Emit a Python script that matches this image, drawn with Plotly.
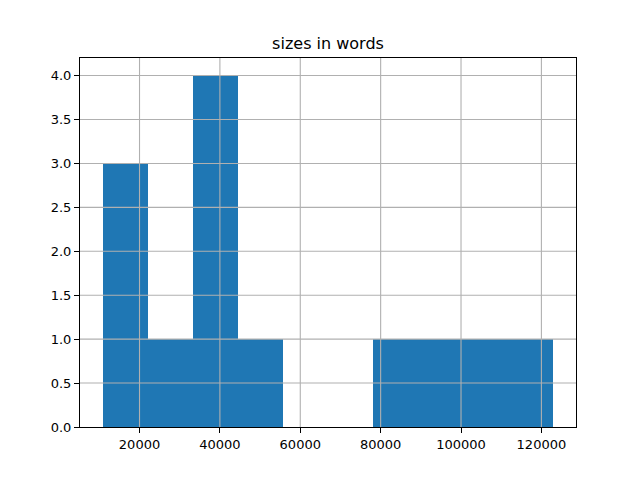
import plotly.graph_objects as go

# Histogram data (10 bins)
bin_edges = [10800, 22020, 33240, 44460, 55680, 66900, 78120, 89340, 100560, 111780, 123000]
counts = [3, 1, 4, 1, 0, 0, 1, 1, 1, 1]
title_text = "sizes in words"
x_ticks = [20000, 40000, 60000, 80000, 100000, 120000]
y_ticks = [0.0, 0.5, 1.0, 1.5, 2.0, 2.5, 3.0, 3.5, 4.0]

centers = [(bin_edges[i] + bin_edges[i + 1]) / 2 for i in range(len(counts))]
widths = [bin_edges[i + 1] - bin_edges[i] for i in range(len(counts))]

fig = go.Figure(go.Bar(x=centers, y=counts, width=widths,
                       marker=dict(color="#1f77b4", line=dict(width=0))))

span = bin_edges[-1] - bin_edges[0]
xr = [bin_edges[0] - 0.05 * span, bin_edges[-1] + 0.05 * span]
yr = [0, max(counts) * 1.05]

grid_color = "#b0b0b0"
axis_common = dict(showline=True, linecolor="black", linewidth=1, mirror=True,
                   ticks="outside", ticklen=5, tickcolor="black", tickwidth=1,
                   showgrid=False, zeroline=False, layer="above traces", automargin=False,
                   tickfont=dict(family="DejaVu Sans", size=13, color="black"))

# grid lines drawn above the bars, as matplotlib does here
shapes = []
for v in x_ticks:
    shapes.append(dict(type="line", xref="x", yref="paper", x0=v, x1=v, y0=0, y1=1,
                       line=dict(color=grid_color, width=1.1), layer="above"))
for v in y_ticks[1:]:
    shapes.append(dict(type="line", xref="paper", yref="y", x0=0, x1=1, y0=v, y1=v,
                       line=dict(color=grid_color, width=1.1), layer="above"))

fig.update_layout(
    width=640, height=480,
    margin=dict(l=72, r=72, t=50, b=61),
    paper_bgcolor="white", plot_bgcolor="white",
    showlegend=False,
    shapes=shapes,
    title=dict(text=title_text, x=(72 + 568) / 2 / 640, xanchor="center",
               y=1 - 35 / 480, yanchor="middle",
               font=dict(family="DejaVu Sans", size=16, color="black")),
    xaxis=dict(range=xr, tickvals=x_ticks, ticktext=[str(v) for v in x_ticks], **axis_common),
    yaxis=dict(range=yr, tickvals=y_ticks, ticktext=[f"{v:.1f}" for v in y_ticks], **axis_common),
    bargap=0,
)

fig.write_html("out.html", config={"displayModeBar": False})
